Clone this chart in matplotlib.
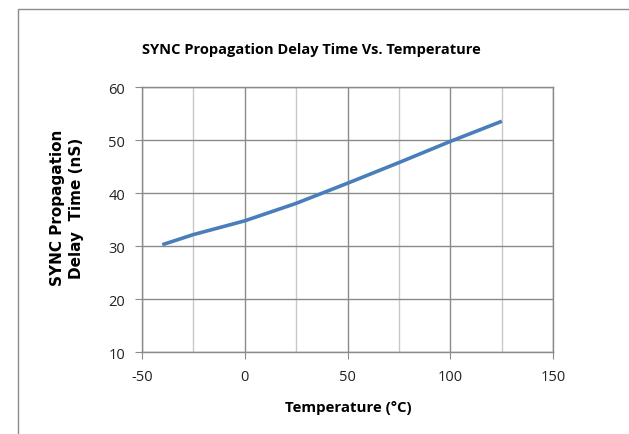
import matplotlib
matplotlib.use("Agg")
import matplotlib.pyplot as plt
from matplotlib.patches import Rectangle

# data
temps = [-40, -25, 0, 25, 50, 75, 100, 125]
delay = [30.3, 32.2, 34.8, 38.1, 41.9, 45.8, 49.8, 53.6]

x_ticks = [-50, 0, 50, 100, 150]
x_minor = [-25, 25, 75, 125]
y_ticks = [10, 20, 30, 40, 50, 60]

plt.rcParams['axes.unicode_minus'] = False
narrow = ['Open Sans', 'DejaVu Sans']

fig = plt.figure(figsize=(6.29, 4.35), dpi=100)
ax = fig.add_axes([0.2253, 0.1878, 0.8797 - 0.2253, 0.797 - 0.1878])

# outer chart border (runs off the right and bottom edges)
fig.patches.append(Rectangle((18 / 629, -0.1), 1.2, 1 - 9.5 / 435 + 0.1,
                             transform=fig.transFigure, fill=False,
                             edgecolor='#8c8c8c', linewidth=1.0))

ax.plot(temps, delay, color='#4a7ebb', linewidth=2.6, solid_capstyle='butt')

ax.set_xlim(-50, 150)
ax.set_ylim(10, 60)
ax.set_xticks(x_ticks)
ax.set_xticks(x_minor, minor=True)
ax.set_yticks(y_ticks)

ax.grid(True, which='major', color='#8a8a8a', linewidth=1.0)
ax.grid(True, which='minor', axis='x', color='#c8c8c8', linewidth=1.0)
ax.set_axisbelow(True)

for s in ax.spines.values():
    s.set_color('#8a8a8a')
    s.set_linewidth(1.0)

ax.tick_params(which='major', direction='out', length=5, color='#8a8a8a',
               labelsize=10.5, pad=7)
ax.tick_params(which='minor', length=0)
for lab in ax.get_xticklabels() + ax.get_yticklabels():
    lab.set_family(narrow)
    lab.set_color('#222222')

fig.text(311 / 629, 1 - 50 / 435, 'SYNC Propagation Delay Time Vs. Temperature',
         ha='center', va='center', fontsize=10.5, fontweight='bold', family=narrow)
fig.text(348 / 629, 1 - 408 / 435, 'Temperature (°C)',
         ha='center', va='center', fontsize=10.8, fontweight='bold', family=narrow)
fig.text(67 / 629, 1 - 208 / 435, 'SYNC Propagation\nDelay  Time (nS)',
         ha='center', va='center', rotation=90, fontsize=11, fontweight='bold',
         family=['DejaVu Sans'], linespacing=1.35)

fig.savefig('out.png', dpi=100)
